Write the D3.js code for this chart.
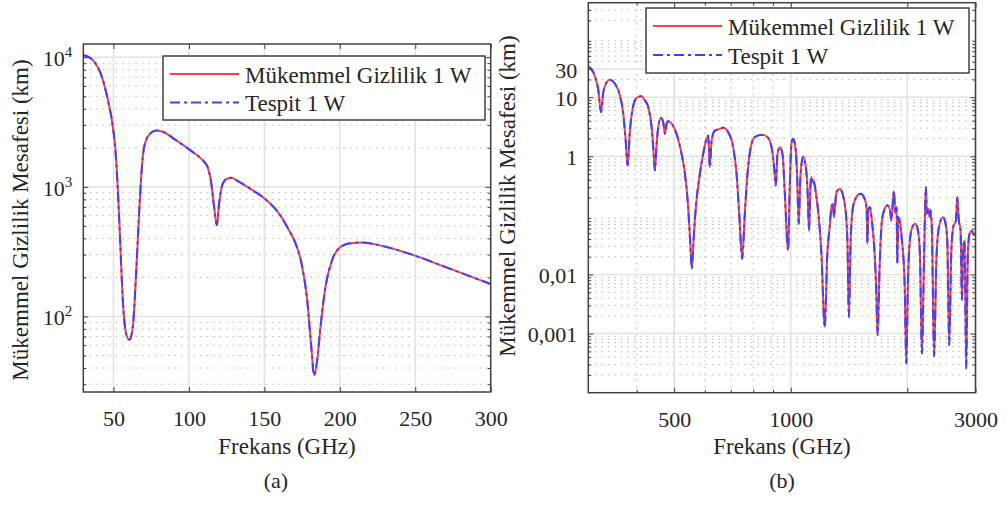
<!DOCTYPE html>
<html>
<head>
<meta charset="utf-8">
<script src="https://cdn.jsdelivr.net/npm/d3@7"></script>
<style>
  body { margin: 0; background: #fff; }
  text { font-family: "Liberation Serif", "Times New Roman", serif; fill: #262626; }
</style>
</head>
<body>
<svg id="chart" width="1005" height="505"></svg>
<script>
// (a) 30-300 GHz
var freqA = [30, 36.3, 43, 46.3, 49.6, 51.3, 52.9, 54.4, 56.2, 58.4, 60.6, 62.8, 65, 67.2, 69.4, 71.6, 74.9, 78.2, 82.6,
  91.4, 102.4, 109, 112.3, 114.5, 116.7, 118.5, 120, 121.8, 124.4, 127.8, 133.3, 142.1, 150.9, 159.7, 166.3, 170.7,
  175.1, 178.4, 181.1, 183, 185, 187.2, 190.5, 194.9, 199.3, 206, 214.8, 225.8, 247.8, 269.8, 287.4, 300]
var mukemmelA = [10400, 9500, 6670, 4670, 2900, 1920, 943, 387, 133, 73.6, 66.2, 83, 214, 701, 1705, 2290, 2610, 2720, 2660,
  2290, 1860, 1610, 1430, 1125, 701, 506, 743, 1000, 1140, 1175, 1093, 943, 798, 622, 463, 365,
  241, 133, 58, 35.1, 45.9, 83, 169, 272, 334, 365, 372, 355, 300, 241, 202, 178]
var tespitA = [10400, 9500, 6670, 4670, 2900, 1920, 943, 387, 133, 73.6, 66.2, 83, 214, 701, 1705, 2290, 2610, 2720, 2660,
  2290, 1860, 1610, 1430, 1125, 701, 506, 743, 1000, 1140, 1175, 1093, 943, 798, 622, 463, 365,
  241, 133, 58, 35.1, 45.9, 83, 169, 272, 334, 365, 372, 355, 300, 241, 202, 178]

// (b) 300-3000 GHz
var freqB = [300, 309, 318.5, 323.6, 328, 334.6, 341, 351.4, 362, 369.5, 374.7, 379, 384.3, 392, 400, 410.6, 420.2, 428.5,
  437.2, 441.4, 445.7, 450.4, 454.7, 462, 468.4, 473.2, 478, 482.5, 494.3, 507, 522.4, 533, 543.3, 549.6, 555.5, 561,
  568.8, 582.5, 594, 606, 612, 618, 624.5, 636.8, 649.3, 669, 689, 710, 724.4, 736, 749, 760.9, 773.2, 788.5, 807.5,
  840.2, 871, 891.9, 905.8, 914.9, 924.1, 936.8, 951.9, 964.9, 984.6, 994, 1004, 1014, 1028, 1038, 1048.6, 1059,
  1075.7, 1091, 1104, 1115, 1124, 1130.6, 1137, 1143, 1153, 1165, 1181, 1200, 1224, 1243, 1260, 1274, 1285, 1293,
  1312, 1338, 1378, 1400, 1413, 1428, 1448, 1477, 1515, 1552, 1570, 1577, 1587, 1602, 1620, 1645, 1662, 1676, 1696,
  1720, 1748, 1776, 1804, 1819, 1836, 1847, 1862, 1877, 1884, 1895, 1910, 1937, 1968, 1988, 2007, 2027, 2060, 2097,
  2130, 2155, 2182, 2207, 2226, 2234, 2247, 2264, 2283, 2296, 2315, 2345, 2377, 2413, 2472, 2511, 2536, 2566, 2597,
  2628, 2670, 2692, 2717, 2745, 2767, 2790, 2811, 2839, 2866, 2896, 2937, 2970, 3000]
var mukemmelB = [33.4, 26.5, 13, 5.6, 12.2, 17.9, 19.7, 16.9, 10.7, 5.2, 1.85, 0.7, 2.73, 7.24, 9.8, 10.4, 8.8, 6.8,
  3.1, 1.43, 0.577, 1.63, 3.11, 4.49, 3.78, 2.4, 3.55, 3.93, 3.45, 2.4, 1.1, 0.507, 0.138, 0.0377, 0.01255, 0.0377,
  0.138, 0.507, 1.1, 1.98, 2.25, 0.656, 1.85, 2.73, 2.84, 3.04, 2.56, 1.43, 0.507, 0.107, 0.0185, 0.107, 0.507, 1.43, 2.11,
  2.31, 2.11, 1.43, 0.656, 0.321, 1.1, 1.43, 1.1, 0.248, 0.0256, 0.3, 1.63, 1.98, 1.43, 0.507, 0.0724, 0.445,
  0.985, 0.748, 0.3, 0.0557, 0.3, 0.445, 0.37, 0.4, 0.321, 0.204, 0.0935, 0.0225, 0.00129, 0.0225, 0.0634, 0.138, 0.157, 0.0935,
  0.248, 0.283, 0.157, 0.04, 0.0019, 0.0377, 0.138, 0.204, 0.232, 0.191, 0.13, 0.0332, 0.13, 0.138, 0.08, 0.025, 0.006, 0.00094, 0.0134,
  0.0822, 0.13, 0.148, 0.122, 0.0822, 0.179, 0.258, 0.107, 0.138, 0.0152, 0.0935, 0.0822, 0.0377, 0.007, 0.000311, 0.007, 0.0332, 0.0634, 0.0724,
  0.0557, 0.0225, 0.000459, 0.0134, 0.179, 0.3, 0.107, 0.13, 0.0935, 0.122, 0.0557, 0.000414, 0.0173, 0.0634, 0.0935, 0.0724, 0.0377, 0.000635, 0.0225,
  0.0634, 0.0822, 0.204, 0.0822, 0.0557, 0.0037, 0.03, 0.0377, 0.000256, 0.0225, 0.049, 0.0557, 0.046, 0.05]
var tespitB = mukemmelB.slice()

var seriesNames = ['Mükemmel Gizlilik 1 W', 'Tespit 1 W']
var xTicksA = [50, 100, 150, 200, 250, 300]
var yTicksA = [100, 1000, 10000]
var xTicksB = [500, 1000, 2000, 3000]
var xTickLabelsB = ['500', '1000', '', '3000']
var xMinorB = [400, 600, 700, 800, 900]
var yTicksB = [0.001, 0.01, 1, 10, 30]
var yTickLabelsB = ['0,001', '0,01', '1', '10', '30']
var xLabel = 'Frekans (GHz)'
var yLabel = 'Mükemmel Gizlilik Mesafesi (km)'

var svg = d3.select('#chart')
var axisColor = '#404040'

function minorLog (lo, hi, skip) {
  var out = []
  for (var e = Math.floor(Math.log10(lo)); e <= Math.ceil(Math.log10(hi)); e++) {
    for (var m = 2; m <= 9; m++) {
      var v = +(m * Math.pow(10, e)).toPrecision(6)
      if (v > lo && v < hi && skip.indexOf(v) < 0) out.push(v)
    }
  }
  return out
}

function drawPanel (p) {
  var g = svg.append('g')
  var x = p.x.range([p.left, p.right])
  var y = p.y.range([p.bottom, p.top])

  // dotted minor grid
  g.selectAll(null).data(p.yMinor).enter().append('line')
    .attr('x1', p.left).attr('x2', p.right)
    .attr('y1', d => y(d)).attr('y2', d => y(d))
    .attr('stroke', '#b5b5b5').attr('stroke-dasharray', '1.5,5')
  g.selectAll(null).data(p.xMinor).enter().append('line')
    .attr('y1', p.top).attr('y2', p.bottom)
    .attr('x1', d => x(d)).attr('x2', d => x(d))
    .attr('stroke', '#b5b5b5').attr('stroke-dasharray', '1.5,5')

  // major grid
  g.selectAll(null).data(p.yTicks).enter().append('line')
    .attr('x1', p.left).attr('x2', p.right)
    .attr('y1', d => y(d)).attr('y2', d => y(d))
    .attr('stroke', '#e2e2e2').attr('stroke-width', 1.5)
  g.selectAll(null).data(p.xTicks).enter().append('line')
    .attr('y1', p.top).attr('y2', p.bottom)
    .attr('x1', d => x(d)).attr('x2', d => x(d))
    .attr('stroke', '#e2e2e2').attr('stroke-width', 1.5)

  // curves
  var clipId = 'clip' + p.name
  svg.append('clipPath').attr('id', clipId).append('rect')
    .attr('x', p.left).attr('y', p.top).attr('width', p.right - p.left).attr('height', p.bottom - p.top)
  var line = d3.line().x(d => x(d[0])).y(d => y(d[1])).curve(d3.curveMonotoneX)
  g.append('path').datum(d3.zip(p.freq, p.mukemmel))
    .attr('clip-path', 'url(#' + clipId + ')')
    .attr('d', line).attr('fill', 'none').attr('stroke', '#ff4040').attr('stroke-width', 2)
  g.append('path').datum(d3.zip(p.freq, p.tespit))
    .attr('clip-path', 'url(#' + clipId + ')')
    .attr('d', line).attr('fill', 'none').attr('stroke', '#4040ff').attr('stroke-width', 2)
    .attr('stroke-dasharray', '10,4,3,4')

  // ticks (inward, all four sides)
  function styleAxis (ax) {
    ax.select('.domain').remove()
    ax.selectAll('line').attr('stroke', axisColor).attr('stroke-width', 1)
    ax.selectAll('text').style('font-size', '22px').attr('fill', '#262626')
  }
  var bottomAx = g.append('g').attr('transform', 'translate(0,' + p.bottom + ')')
    .call(d3.axisBottom(x).tickValues(p.xTicks).tickFormat((d, i) => p.xTickLabels[i]).tickSize(-5).tickSizeOuter(0))
  styleAxis(bottomAx)
  bottomAx.selectAll('text').attr('y', 34).attr('dy', null)
  g.append('g').attr('transform', 'translate(0,' + p.top + ')')
    .call(d3.axisTop(x).tickValues(p.xTicks).tickFormat('').tickSize(-5).tickSizeOuter(0)).call(styleAxis)
  g.append('g').attr('transform', 'translate(0,' + p.bottom + ')')
    .call(d3.axisBottom(x).tickValues(p.xMinor).tickFormat('').tickSize(-3).tickSizeOuter(0)).call(styleAxis)
  g.append('g').attr('transform', 'translate(0,' + p.top + ')')
    .call(d3.axisTop(x).tickValues(p.xMinor).tickFormat('').tickSize(-3).tickSizeOuter(0)).call(styleAxis)

  var leftAx = g.append('g').attr('transform', 'translate(' + p.left + ',0)')
    .call(d3.axisLeft(y).tickValues(p.yTicks).tickFormat((d, i) => p.yTickLabels ? p.yTickLabels[i] : '').tickSize(-5).tickSizeOuter(0))
  styleAxis(leftAx)
  leftAx.selectAll('text').attr('x', -11).attr('dy', null).attr('y', 8)
  g.append('g').attr('transform', 'translate(' + p.right + ',0)')
    .call(d3.axisRight(y).tickValues(p.yTicks).tickFormat('').tickSize(-5).tickSizeOuter(0)).call(styleAxis)
  g.append('g').attr('transform', 'translate(' + p.left + ',0)')
    .call(d3.axisLeft(y).tickValues(p.yMinor).tickFormat('').tickSize(-3).tickSizeOuter(0)).call(styleAxis)
  g.append('g').attr('transform', 'translate(' + p.right + ',0)')
    .call(d3.axisRight(y).tickValues(p.yMinor).tickFormat('').tickSize(-3).tickSizeOuter(0)).call(styleAxis)

  // power-of-ten labels
  if (!p.yTickLabels) {
    p.yTicks.forEach(function (d) {
      var t = g.append('text').attr('x', p.left - 11).attr('y', y(d) + 9)
        .attr('text-anchor', 'end').style('font-size', '22px')
      t.append('tspan').text('10')
      t.append('tspan').attr('dy', -9).style('font-size', '15px').text(Math.round(Math.log10(d)))
    })
  }

  // box
  g.append('rect').attr('x', p.left).attr('y', p.top)
    .attr('width', p.right - p.left).attr('height', p.bottom - p.top)
    .attr('fill', 'none').attr('stroke', axisColor).attr('stroke-width', 1.5)

  // axis titles
  g.append('text').attr('x', (p.left + p.right) / 2).attr('y', 454)
    .attr('text-anchor', 'middle').style('font-size', '23px').text(xLabel)
  g.append('text').attr('transform', 'translate(' + p.yLabelX + ',' + p.yLabelY + ') rotate(-90)')
    .attr('text-anchor', 'middle').style('font-size', '23px').text(yLabel)
  g.append('text').attr('x', p.captionX).attr('y', 488)
    .attr('text-anchor', 'middle').style('font-size', '22px').text(p.caption)

  // legend
  var lg = p.legend
  g.append('rect').attr('x', lg.x).attr('y', lg.y).attr('width', lg.w).attr('height', lg.h)
    .attr('fill', '#fff').attr('stroke', axisColor).attr('stroke-width', 1.5)
  seriesNames.forEach(function (name, i) {
    var by = lg.base + i * lg.step
    g.append('line').attr('x1', lg.x + 7).attr('x2', lg.x + 76).attr('y1', by - 8.5).attr('y2', by - 8.5)
      .attr('stroke', i === 0 ? '#ff4040' : '#4040ff').attr('stroke-width', 2)
      .attr('stroke-dasharray', i === 0 ? null : '10,4,3,4')
    g.append('text').attr('x', lg.x + 82).attr('y', by).style('font-size', '23px').text(name)
  })
}

drawPanel({
  name: 'A',
  left: 83.3, right: 490.7, top: 44, bottom: 392,
  x: d3.scaleLinear().domain([30, 300]),
  y: d3.scaleLog().domain([Math.pow(10, 1.417), Math.pow(10, 4.102)]),
  xTicks: xTicksA, xTickLabels: xTicksA.map(String), xMinor: [],
  yTicks: yTicksA, yTickLabels: null,
  yMinor: minorLog(Math.pow(10, 1.417), Math.pow(10, 4.102), []),
  freq: freqA, mukemmel: mukemmelA, tespit: tespitA,
  yLabelX: 28, yLabelY: 220, captionX: 276, caption: '(a)',
  legend: { x: 163, y: 56, w: 322, h: 64, base: 82.5, step: 28.5 }
})

drawPanel({
  name: 'B',
  left: 588.3, right: 975.5, top: 2.7, bottom: 392.7,
  x: d3.scaleLog().domain([300, 3000]),
  y: d3.scaleLog().domain([1e-4, Math.pow(10, 2.6)]),
  xTicks: xTicksB, xTickLabels: xTickLabelsB, xMinor: xMinorB,
  yTicks: yTicksB, yTickLabels: yTickLabelsB,
  yMinor: minorLog(1e-4, Math.pow(10, 2.6), [30]),
  freq: freqB, mukemmel: mukemmelB, tespit: tespitB,
  yLabelX: 515, yLabelY: 196, captionX: 782, caption: '(b)',
  legend: { x: 646, y: 8, w: 323, h: 65, base: 34.5, step: 29 }
})
</script>
</body>
</html>
